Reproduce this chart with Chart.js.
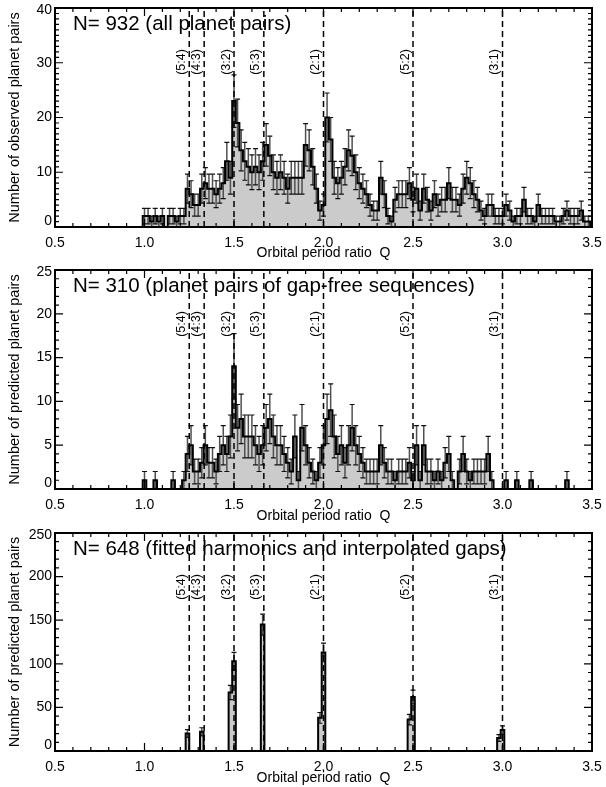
<!DOCTYPE html>
<html>
<head>
<meta charset="utf-8">
<script src="https://cdn.jsdelivr.net/npm/chart.js@4.4.0/dist/chart.umd.min.js"></script>
<style>
  body { margin: 0; background: #fff; }
  .panel { position: absolute; left: 0; width: 606px; }
</style>
</head>
<body>
<div class="panel" style="top:0;height:262px"><canvas id="obs"></canvas></div>
<div class="panel" style="top:262px;height:263px"><canvas id="pred"></canvas></div>
<div class="panel" style="top:525px;height:262px"><canvas id="harm"></canvas></div>
<script>
// histogram bins are 0.02 wide; lists below start at bin centre 1.00
const firstBin = 1.00;
const observedCounts = [
  2, 2, 1, 2, 1, 2, 0, 2, 2, 1, 2, 2,
  7, 6, 4, 4, 7, 8, 7, 7, 6, 7, 8, 12, 9,
  23, 19, 14, 12, 11, 10, 11, 10, 12, 15, 13, 10, 9,
  10, 9, 7, 9, 9, 9, 9, 15, 14, 11, 7, 3, 4,
  20, 16, 9, 8, 9, 11, 14, 13, 10, 8, 7, 6, 4, 3, 3, 9, 6, 2, 1,
  5, 6, 6, 6, 8, 5, 7, 3, 7, 5, 3, 6, 4, 5, 5, 8, 5, 5, 4, 7, 9, 8, 6, 5, 3, 2, 4, 4, 2, 2,
  2, 4, 3, 1, 2, 2, 5, 2, 2, 1, 4, 2, 2, 2, 2, 1, 1, 2, 3, 2, 2, 2, 3, 1, 1
];
const predictedCounts = [
  1, 0, 0, 1, 0, 0, 0, 0, 1, 0, 0, 1,
  4, 5, 2, 2, 3, 5, 3, 3, 2, 4, 5, 4, 6,
  14, 7, 8, 6, 6, 6, 5, 4, 5, 7, 8, 6, 5,
  5, 4, 3, 2, 6, 1, 7, 5, 3, 2, 1, 3, 5,
  8, 9, 6, 4, 5, 3, 5, 7, 5, 4, 3, 2, 2, 2, 2, 5, 3, 2, 2,
  1, 2, 2, 2, 3, 1, 5, 1, 5, 2, 2, 1, 2, 1, 3, 4, 1, 0, 2, 4, 2, 1, 2, 2, 2, 2, 4, 1, 0, 0,
  0, 1, 0, 0, 1, 0, 0, 0, 1, 0, 0, 0, 0, 0, 0, 0, 0, 0, 1, 0, 0, 0, 0, 0, 0
];
const harmonicQ      = [1.24, 1.32, 1.48, 1.50, 1.66, 1.98, 2.00, 2.48, 2.50, 2.98, 3.00];
const harmonicCounts = [20,   22,   67,   103,  145,  38,   113,  36,   62,   15,   24];

const resonanceQ      = [1.25, 4 / 3, 1.5, 5 / 3, 2.0, 2.5, 3.0];
const resonanceLabels = ['(5:4)', '(4:3)', '(3:2)', '(5:3)', '(2:1)', '(5:2)', '(3:1)'];
const xTicks = [0.5, 1.0, 1.5, 2.0, 2.5, 3.0, 3.5];

const FONT = 'Liberation Sans, Arial, Helvetica, sans-serif';
const binCentres = observedCounts.map((_, i) => Math.round((firstBin + i * 0.02) * 100) / 100);

function stepPoints(qs, counts) {
  const pts = [{x: 0.49, y: 0}];
  let prevEnd = null;
  qs.forEach((q, i) => {
    const a = q - 0.01, b = q + 0.01;
    if (prevEnd === null || Math.abs(a - prevEnd) > 1e-6) {
      if (prevEnd !== null) pts.push({x: prevEnd, y: 0});
      pts.push({x: a, y: 0});
    }
    pts.push({x: a, y: counts[i]}, {x: b, y: counts[i]});
    prevEnd = b;
  });
  pts.push({x: prevEnd, y: 0}, {x: 3.51, y: 0});
  return pts;
}

// sqrt(N) error bars: vertical whisker plus a cap at each end
function errorParts(qs, counts) {
  const whisker = [], caps = [];
  qs.forEach((q, i) => {
    const v = counts[i];
    if (!v) return;
    const e = Math.sqrt(v);
    whisker.push({x: q, y: v - e}, {x: q, y: v + e}, {x: q, y: null});
    caps.push({x: q - 0.014, y: v + e}, {x: q + 0.014, y: v + e}, {x: q, y: null},
              {x: q - 0.014, y: v - e}, {x: q + 0.014, y: v - e}, {x: q, y: null});
  });
  return {whisker, caps};
}

function resonancePoints(ymax) {
  const pts = [];
  resonanceQ.forEach(q => pts.push({x: q, y: 0}, {x: q, y: ymax}, {x: q, y: null}));
  return pts;
}

const idlFrame = {
  id: 'idl',
  afterDatasetsDraw(chart, args, o) {
    const {ctx, chartArea: a, scales: {x, y}} = chart;
    ctx.save();
    ctx.strokeStyle = '#000';
    ctx.lineWidth = 1.2;
    ctx.beginPath();
    for (let k = 0; k <= 30; k++) {
      const px = x.getPixelForValue(0.5 + k * 0.1);
      const len = k % 5 === 0 ? 8 : 4;
      ctx.moveTo(px, a.bottom); ctx.lineTo(px, a.bottom - len);
      ctx.moveTo(px, a.top); ctx.lineTo(px, a.top + len);
    }
    const n = Math.round(o.ymax / o.yMinor);
    const per = Math.round(o.yMajor / o.yMinor);
    for (let k = 0; k <= n; k++) {
      const py = y.getPixelForValue(k * o.yMinor);
      const len = k % per === 0 ? 8 : 4;
      ctx.moveTo(a.left, py); ctx.lineTo(a.left + len, py);
      ctx.moveTo(a.right, py); ctx.lineTo(a.right - len, py);
    }
    ctx.stroke();
    ctx.lineWidth = 2;
    ctx.strokeRect(a.left, a.top, a.right - a.left, a.bottom - a.top);

    ctx.fillStyle = '#000';
    // y tick labels (bottom one sits a little above its tick, as in the original)
    ctx.font = '14px ' + FONT;
    ctx.textAlign = 'right';
    ctx.textBaseline = 'middle';
    o.yTicks.forEach(v => {
      let py = y.getPixelForValue(v);
      if (v === 0) py -= 6;
      if (v === o.ymax) py += 2;
      ctx.fillText(String(v), a.left - 3, py);
    });

    ctx.font = '12.5px ' + FONT;
    ctx.textAlign = 'center';
    ctx.textBaseline = 'alphabetic';
    resonanceQ.forEach((q, i) => {
      const px = x.getPixelForValue(q);
      ctx.save();
      ctx.translate(px - 4.5, a.top + 54);
      ctx.rotate(-Math.PI / 2);
      ctx.fillText(resonanceLabels[i], 0, 0);
      ctx.restore();
    });
    ctx.font = '20.5px ' + FONT;
    ctx.textAlign = 'left';
    ctx.fillText(o.title, a.left + 18, a.top + 22);
    ctx.restore();
  }
};

function makePanel(id, qs, counts, ymax, yMajor, yMinor, yTitle, title, xHeight) {
  const err = errorParts(qs, counts);
  const yTicks = [];
  for (let v = 0; v <= ymax; v += yMajor) yTicks.push(v);
  return new Chart(document.getElementById(id), {
    type: 'line',
    data: {
      datasets: [
        {data: resonancePoints(ymax), borderColor: '#000', borderWidth: 1.5, borderDash: [6, 4],
         pointRadius: 0, spanGaps: false, order: -1},
        {data: stepPoints(qs, counts), borderColor: '#000', borderWidth: 2, backgroundColor: '#cbcbcb',
         fill: 'origin', pointRadius: 0, tension: 0, order: 0},
        {data: err.caps, borderColor: '#111', borderWidth: 1.2, pointRadius: 0, spanGaps: false, order: 1},
        {data: err.whisker, borderColor: '#505050', borderWidth: 1.5, pointRadius: 0, spanGaps: false, order: 2}
      ]
    },
    options: {
      animation: false,
      responsive: true,
      maintainAspectRatio: false,
      layout: {padding: {top: 8, right: 14, left: 0, bottom: 0}},
      plugins: {
        legend: {display: false},
        tooltip: {enabled: false},
        filler: {drawTime: 'beforeDatasetsDraw'},
        idl: {title: title, ymax: ymax, yMajor: yMajor, yMinor: yMinor, yTicks: yTicks}
      },
      scales: {
        x: {
          type: 'linear', min: 0.5, max: 3.5,
          grid: {display: false}, border: {display: false},
          afterBuildTicks: s => { s.ticks = xTicks.map(v => ({value: v})); },
          afterFit: s => { s.height = xHeight; },
          ticks: {callback: v => v.toFixed(1), font: {size: 14, family: FONT}, color: '#000',
                  padding: 0, maxRotation: 0, autoSkip: false},
          title: {display: true, text: 'Orbital period ratio  Q', color: '#000',
                  font: {size: 14, family: FONT}, padding: 0}
        },
        y: {
          min: 0, max: ymax,
          grid: {display: false}, border: {display: false},
          afterFit: s => { s.width = 55; },
          ticks: {display: false},
          title: {display: true, text: yTitle, color: '#000',
                  font: {size: 14.5, family: FONT}, padding: {top: 6, bottom: 0}}
        }
      }
    },
    plugins: [idlFrame]
  });
}

makePanel('obs', binCentres, observedCounts, 40, 10, 1,
  'Number of observed planet pairs', 'N= 932 (all planet pairs)', 35);
makePanel('pred', binCentres, predictedCounts, 25, 5, 1,
  'Number of predicted planet pairs', 'N= 310 (planet pairs of gap-free sequences)', 36);
makePanel('harm', harmonicQ, harmonicCounts, 250, 50, 10,
  'Number of predicted planet pairs', 'N= 648 (fitted harmonics and interpolated gaps)', 36);
</script>
</body>
</html>
